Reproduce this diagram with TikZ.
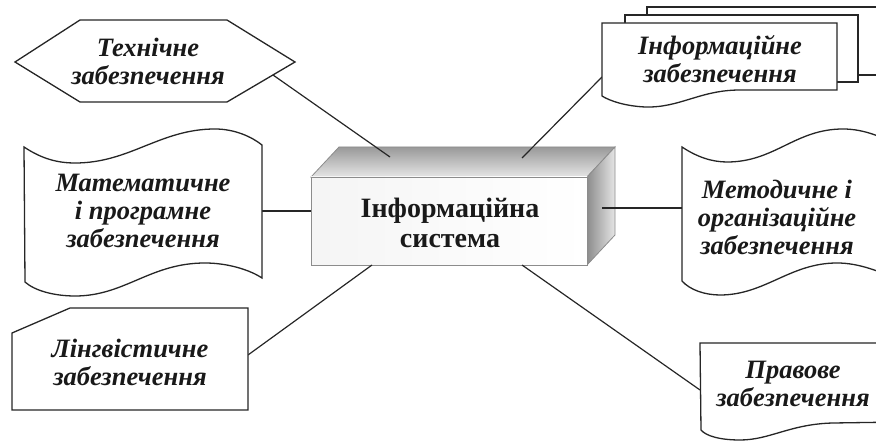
\documentclass[tikz,border=0pt]{standalone}
\usepackage{fontspec}
\setmainfont{Liberation Serif}
\begin{document}
\begin{tikzpicture}[x=1pt,y=-1pt,
  shp/.style={draw=black!85, line width=1.3pt, fill=white, line join=miter},
  conn/.style={draw=black!85, line width=1.2pt},
  edge3d/.style={draw=black!45, line width=0.8pt},
  lbl/.style={font=\fontsize{26.5}{28}\selectfont\bfseries\itshape, text=black!90, align=center, inner sep=0pt},
  mainlbl/.style={font=\fontsize{28}{30}\selectfont\bfseries, text=black!90, align=center, inner sep=0pt}]
\useasboundingbox (0,0) rectangle (876,443);

% cube
\shade[top color=black!40, bottom color=black!10, edge3d] (311,177) -- (339,147) -- (615,147) -- (587,177) -- cycle;
\shade[left color=black!45, right color=black!10, edge3d] (587,177) -- (615,147) -- (615,235) -- (587,265) -- cycle;
\shade[left color=black!4, right color=white, edge3d] (311,177) rectangle (587,265);
\node[mainlbl] (sys) at (450,223) {Інформаційна\\система};

% connection points
\coordinate (cT1) at (390,157);
\coordinate (cT2) at (522,158);
\coordinate (cL) at (311,211);
\coordinate (cR) at (602,208);
\coordinate (cB1) at (372,265);
\coordinate (cB2) at (522,265);
\coordinate (hexE) at (273,75);
\coordinate (infoE) at (602,77);
\coordinate (mathE) at (262,211);
\coordinate (methE) at (682,208);
\coordinate (lingE) at (248,355);
\coordinate (legE) at (700,390);

\draw[conn] (hexE) -- (cT1);
\draw[conn] (infoE) -- (cT2);
\draw[conn] (mathE) -- (cL);
\draw[conn] (methE) -- (cR);
\draw[conn] (lingE) -- (cB1);
\draw[conn] (legE) -- (cB2);

% hexagon
\draw[shp] (15,62) -- (80,20) -- (227,20) -- (295,62) -- (227,102) -- (80,102) -- cycle;
\node[lbl] (tech) at (148,61) {Технічне\\забезпечення};

% multi-document
\draw[shp] (647,7) rectangle (895,75);
\draw[shp] (625,15) rectangle (858,82);
\draw[shp] (602,23) -- (837,23) -- (837,90) -- (740,90)
  .. controls (700,90) and (680,108) .. (645,107)
  .. controls (625,106) and (610,101) .. (602,96) -- cycle;
\node[lbl] (info) at (720,59) {Інформаційне\\забезпечення};

% punched tape (math)
\draw[shp] (24,147) .. controls (42,159) and (58,163) .. (75,163)
  .. controls (130,163) and (160,129) .. (215,129)
  .. controls (235,129) and (252,137) .. (262,145)
  -- (262,278)
  .. controls (250,270) and (228,263) .. (205,263)
  .. controls (150,263) and (125,296) .. (75,296)
  .. controls (55,296) and (35,291) .. (25,282) -- cycle;
\node[lbl] (math) at (143,211) {Математичне\\і програмне\\забезпечення};

% punched tape (method)
\draw[shp] (682,147) .. controls (697,157) and (712,162) .. (727,162)
  .. controls (775,162) and (795,129) .. (843,129)
  .. controls (865,129) and (885,138) .. (900,147)
  -- (900,280)
  .. controls (880,272) and (860,263) .. (837,263)
  .. controls (790,263) and (765,295) .. (720,295)
  .. controls (705,295) and (690,290) .. (682,281) -- cycle;
\node[lbl] (meth) at (777,217) {Методичне і\\організаційне\\забезпечення};

% card (linguistic)
\draw[shp] (12,333) -- (70,308) -- (248,308) -- (248,410) -- (12,410) -- cycle;
\node[lbl] (ling) at (130,362) {Лінгвістичне\\забезпечення};

% document (legal)
\draw[shp] (700,343) -- (900,343) -- (900,422) -- (833,423)
  .. controls (790,424) and (770,440) .. (740,440)
  .. controls (720,440) and (706,436) .. (701,430) -- cycle;
\node[lbl] (legal) at (793,384) {Правове\\забезпечення};
\end{tikzpicture}
\end{document}
